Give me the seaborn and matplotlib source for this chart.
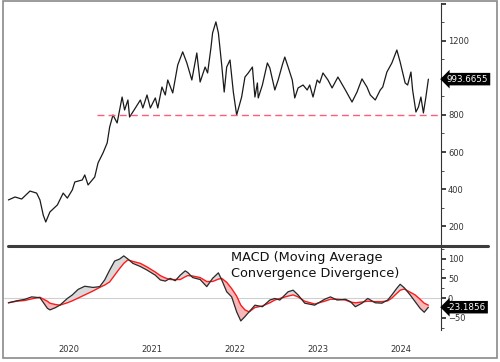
import pandas as pd
import seaborn as sns
import matplotlib.pyplot as plt
from matplotlib.patches import Rectangle
from matplotlib.lines import Line2D
from matplotlib.ticker import MultipleLocator

# price series (x in fractional years)
price_years = [2019.77, 2019.85, 2019.93, 2020.03, 2020.11, 2020.15, 2020.19, 2020.22, 2020.27, 2020.36,
               2020.43, 2020.48, 2020.54, 2020.57, 2020.66, 2020.69, 2020.73, 2020.81, 2020.85, 2020.91,
               2020.96, 2020.99, 2021.03, 2021.08, 2021.14, 2021.17, 2021.21, 2021.23, 2021.30, 2021.36,
               2021.39, 2021.44, 2021.48, 2021.54, 2021.57, 2021.62, 2021.66, 2021.69, 2021.75, 2021.81,
               2021.87, 2021.92, 2021.98, 2022.04, 2022.08, 2022.14, 2022.17, 2022.21, 2022.23, 2022.27,
               2022.30, 2022.34, 2022.37, 2022.40, 2022.44, 2022.48, 2022.52, 2022.58, 2022.62, 2022.66,
               2022.71, 2022.74, 2022.77, 2022.78, 2022.83, 2022.89, 2022.92, 2022.98, 2023.02, 2023.07,
               2023.10, 2023.14, 2023.19, 2023.22, 2023.26, 2023.32, 2023.37, 2023.40, 2023.44, 2023.49,
               2023.52, 2023.56, 2023.62, 2023.67, 2023.74, 2023.83, 2023.91, 2023.97, 2024.03, 2024.09,
               2024.13, 2024.19, 2024.25, 2024.28, 2024.33, 2024.39, 2024.45, 2024.49, 2024.55, 2024.58,
               2024.62, 2024.64, 2024.68, 2024.71, 2024.74, 2024.77, 2024.80, 2024.83]
price_vals = [341, 357, 346, 389, 378, 341, 259, 222, 276, 314,
              378, 351, 395, 438, 449, 476, 422, 465, 541, 595,
              649, 735, 800, 757, 897, 827, 881, 789, 838, 881,
              838, 908, 838, 892, 838, 951, 908, 989, 919, 1070,
              1141, 1081, 989, 1135, 978, 1059, 1027, 1162, 1243, 1303,
              1243, 1070, 924, 1059, 1097, 924, 800, 897, 1005, 1027,
              1059, 897, 973, 892, 962, 1081, 1054, 935, 989, 1070,
              1113, 1059, 989, 892, 946, 962, 935, 962, 897, 989,
              973, 1027, 989, 946, 1005, 935, 870, 924, 995, 951,
              908, 881, 935, 951, 1032, 1081, 1151, 1086, 973, 962,
              1032, 935, 816, 843, 897, 811, 897, 993.6655]

support_level = 800
support_start = 2020.84

# MACD panel
macd_years = [2019.77, 2019.87, 2019.97, 2020.05, 2020.15, 2020.24, 2020.27, 2020.33, 2020.39, 2020.48,
              2020.54, 2020.61, 2020.69, 2020.79, 2020.87, 2020.93, 2020.99, 2021.05, 2021.11, 2021.16,
              2021.21, 2021.27, 2021.36, 2021.44, 2021.54, 2021.60, 2021.66, 2021.72, 2021.78, 2021.84,
              2021.90, 2021.93, 2021.99, 2022.08, 2022.16, 2022.23, 2022.30, 2022.34, 2022.40, 2022.46,
              2022.52, 2022.57, 2022.62, 2022.67, 2022.74, 2022.83, 2022.92, 2022.98, 2023.04, 2023.14,
              2023.20, 2023.26, 2023.34, 2023.46, 2023.58, 2023.65, 2023.73, 2023.83, 2023.89, 2023.95,
              2024.03, 2024.10, 2024.19, 2024.27, 2024.34, 2024.39, 2024.45, 2024.49, 2024.54, 2024.61,
              2024.67, 2024.73, 2024.78, 2024.83]
macd_vals = [-12, -7, -3, 3, 1, -26, -30, -25, -18, -1,
             8, 22, 30, 27, 29, 46, 71, 94, 99, 107,
             99, 88, 80, 71, 58, 46, 43, 50, 44, 58,
             69, 65, 52, 47, 29, 50, 64, 46, 16, 3,
             -35, -58, -47, -35, -18, -22, -5, -1, -5, 16,
             20, 8, -13, -18, -3, 3, -5, -3, -9, -22,
             -13, -1, -12, -13, -5, 8, 25, 35, 26, 8,
             -9, -26, -36, -23.1856]
signal_vals = [-12, -8, -6, -2, 2, -8, -13, -16, -18, -12,
               -7, 0, 8, 18, 27, 33, 41, 58, 75, 88,
               97, 93, 88, 79, 66, 57, 51, 47, 47, 47,
               54, 57, 56, 52, 42, 42, 48, 50, 40, 24,
               5, -18, -30, -35, -24, -20, -12, -5, -1, 5,
               8, 3, -8, -15, -8, -3, -3, -5, -10, -12,
               -10, -8, -9, -9, -7, 0, 12, 20, 23, 15,
               8, -3, -13, -18]

year_ticks = [2020.5, 2021.5, 2022.5, 2023.5, 2024.5]
year_labels = ['2020', '2021', '2022', '2023', '2024']

sns.set_style('white')
plt.rcParams['font.family'] = ['DejaVu Sans']

fig = plt.figure(figsize=(5, 3.62), dpi=100)
ax1 = fig.add_axes([4 / 500, 1 - 244 / 362, 437 / 500, 241 / 362])
ax2 = fig.add_axes([4 / 500, 1 - 330 / 362, 437 / 500, 82 / 362])

xlim = (2019.717, 2024.982)
tick_col = '#333333'

# top panel
sns.lineplot(x=price_years, y=price_vals, ax=ax1, color='#1a1a1a', linewidth=0.9)
ax1.hlines(support_level, support_start, xlim[1], colors='#ff5c7a', linewidth=1.0,
           linestyles=(0, (5, 3)))
ax1.set_xlim(*xlim)
ax1.set_ylim(103, 1405)

# bottom panel
macd_df = pd.DataFrame({'x': macd_years, 'macd': macd_vals, 'signal': signal_vals})
ax2.axhline(0, color='#cfcfcf', linewidth=0.8, zorder=0)
ax2.fill_between(macd_df['x'], macd_df['macd'], macd_df['signal'],
                 where=macd_df['macd'] >= macd_df['signal'], interpolate=True,
                 color='#d9d9d9', linewidth=0)
ax2.fill_between(macd_df['x'], macd_df['macd'], macd_df['signal'],
                 where=macd_df['macd'] < macd_df['signal'], interpolate=True,
                 color='#f6b8b8', linewidth=0)
sns.lineplot(data=macd_df, x='x', y='signal', ax=ax2, color='#ff1a1a', linewidth=1.0)
sns.lineplot(data=macd_df, x='x', y='macd', ax=ax2, color='#2a2a2a', linewidth=0.9)
ax2.set_xlim(*xlim)
ax2.set_ylim(-81, 127)

for ax in (ax1, ax2):
    ax.set_xlabel('')
    ax.set_ylabel('')
    for s in ('top', 'left', 'bottom'):
        ax.spines[s].set_visible(False)
    ax.spines['right'].set_color(tick_col)
    ax.spines['right'].set_linewidth(0.8)
    ax.yaxis.tick_right()
    ax.tick_params(axis='y', which='major', length=3.5, width=1.3, direction='out',
                   colors=tick_col, labelsize=6, pad=1.5)
    ax.tick_params(axis='y', which='minor', length=2, width=0.6, direction='out', colors=tick_col)
    ax.patch.set_alpha(0)

ax1.set_yticks([200, 400, 600, 800, 1000, 1200, 1400])
ax1.set_yticklabels(['200', '400', '600', '800', '', '1200', ''])
ax1.yaxis.set_minor_locator(MultipleLocator(100))
ax1.set_xticks([])

ax2.set_yticks([-50, 0, 50, 100])
ax2.yaxis.set_minor_locator(MultipleLocator(25))
ax2.set_xticks(year_ticks)
ax2.set_xticklabels(year_labels)
ax2.tick_params(axis='x', length=0, labelsize=6, pad=11, colors=tick_col)

# last value tags
ax1.text(1.0137, price_vals[-1], '%.4f' % price_vals[-1], transform=ax1.get_yaxis_transform(),
         ha='left', va='center', fontsize=6.3, color='white', zorder=10, clip_on=False,
         bbox=dict(boxstyle='larrow,pad=0.2', fc='black', ec='none'))
ax2.text(1.0137, macd_vals[-1], '%.4f' % macd_vals[-1], transform=ax2.get_yaxis_transform(),
         ha='left', va='center', fontsize=6.3, color='white', zorder=10, clip_on=False,
         bbox=dict(boxstyle='larrow,pad=0.2', fc='black', ec='none'))

ax2.text(0.519, 0.965, 'MACD (Moving Average\nConvergence Divergence)', transform=ax2.transAxes,
         ha='left', va='top', fontsize=9.3, color='#111111', linespacing=1.35)

# panel separator and outer frame
fig.add_artist(Line2D([8 / 500, 488 / 500], [1 - 246 / 362, 1 - 246 / 362],
                      color='#3c3c3c', linewidth=2.2))
fig.add_artist(Rectangle((3 / 500, 4 / 362), 494 / 500, 357 / 362, fill=False,
                         edgecolor='#8a8a8a', linewidth=1.2))

plt.savefig('out.png', dpi=100)
